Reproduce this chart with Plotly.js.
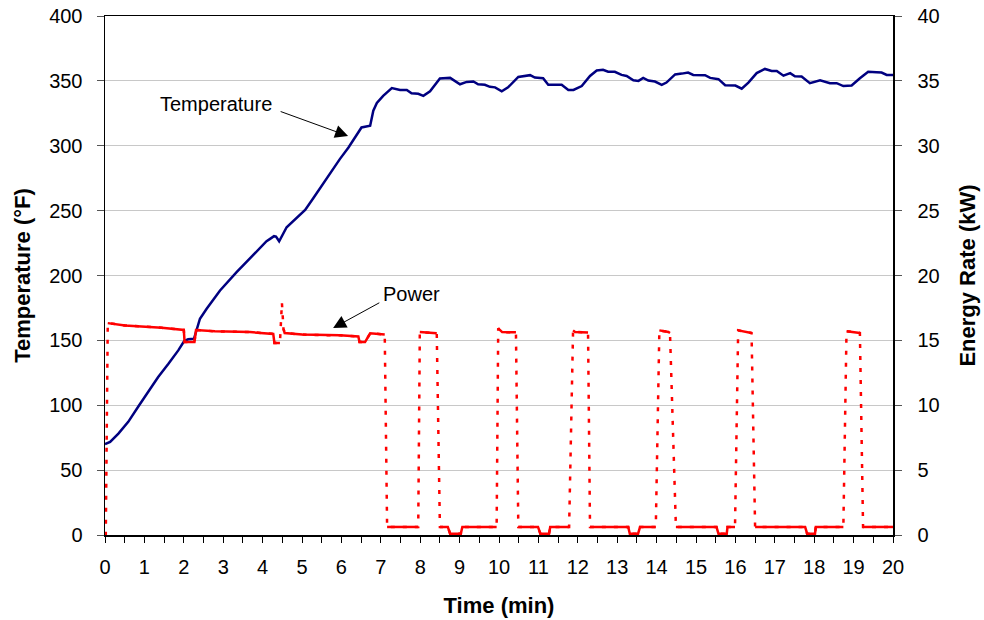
<!DOCTYPE html>
<html><head><meta charset="utf-8">
<script src="https://cdn.plot.ly/plotly-3.0.1.min.js"></script>
<style>html,body{margin:0;padding:0;background:#fff}</style>
</head><body><div id="chart" style="width:984px;height:620px"></div>
<script>
// Temperature series (min, °F)
const timeTemp = [0,0.13,0.34,0.59,0.85,1.1,1.35,1.61,1.86,2.01,2.11,2.26,2.33,2.41,2.58,2.92,3.34,3.76,4.1,4.19,4.29,4.34,4.42,4.61,4.87,5.08,5.29,5.5,5.75,5.96,6.18,6.35,6.51,6.73,6.81,6.9,7.06,7.28,7.49,7.66,7.78,7.95,8.08,8.25,8.5,8.76,9.01,9.18,9.35,9.47,9.64,9.77,9.9,10.07,10.23,10.49,10.79,10.91,11.12,11.25,11.59,11.76,11.89,12.1,12.31,12.48,12.64,12.77,12.94,13.11,13.24,13.41,13.54,13.66,13.79,13.96,14.13,14.25,14.47,14.64,14.8,14.93,15.23,15.36,15.57,15.74,16.0,16.16,16.33,16.54,16.75,16.92,17.05,17.22,17.39,17.51,17.68,17.89,18.15,18.4,18.57,18.74,18.95,19.16,19.37,19.58,19.71,19.84,20.0];
const temperature = [70,71.8,78.2,87.2,99.2,110.3,121.8,132,142.3,149.5,150.8,151.3,159,166.7,174.4,188.5,202.6,215.4,226.4,228.2,230.3,230,226.4,237.2,244.9,250.5,259.7,269.2,280.8,289.7,298.7,306.4,314.1,315.4,327,333,338.5,344.4,343,343,340.5,340,338.5,342,351.8,352.3,347.4,349.2,349.5,347.4,347,345.4,345,342,345,353,354.4,352.6,352,347,347,343,343,346,353.8,358,358.5,357,357,354.6,353.8,350.5,350,352.3,350.3,349.5,347,348.7,355,355.6,356.4,354.6,354.4,352.3,351.3,346.7,346.4,344,348.7,356,359.2,357.7,357.7,354,356,353.6,353.3,348.2,350.5,348.2,348.2,346,346.4,352,357,356.7,356.4,354.6,354.6];

// Power series (min, kW)
const timePower = [0,0.02,0.07,0.51,1.44,2.0,2.02,2.27,2.31,2.79,3.68,4.27,4.3,4.44,4.49,4.53,4.56,5.0,5.79,5.96,6.43,6.46,6.6,6.73,7.1,7.16,7.95,7.99,8.42,8.5,8.7,8.76,9.03,9.07,9.94,9.98,10.08,10.43,10.49,10.99,11.05,11.27,11.3,11.78,11.88,11.93,12.26,12.31,13.28,13.32,13.53,13.58,13.98,14.07,14.3,14.34,14.49,15.52,15.57,15.78,15.8,15.99,16.07,16.41,16.5,17.77,17.82,18.02,18.04,18.74,18.82,19.16,19.24,20.0];
const power = [0,0,16.33,16.15,15.97,15.8,14.87,14.87,15.8,15.7,15.64,15.5,14.8,14.8,17.9,15.9,15.56,15.45,15.38,15.4,15.3,14.87,14.87,15.54,15.46,0.62,0.62,15.64,15.54,0.62,0.62,0.1,0.1,0.62,0.62,15.93,15.64,15.62,0.62,0.62,0.1,0.1,0.62,0.62,15.77,15.65,15.6,0.62,0.62,0.1,0.1,0.62,0.62,15.77,15.65,15.57,0.62,0.62,0.1,0.1,0.62,0.62,15.77,15.57,0.62,0.62,0.1,0.1,0.62,0.62,15.7,15.57,0.62,0.62];

const xTicks = [0,1,2,3,4,5,6,7,8,9,10,11,12,13,14,15,16,17,18,19,20];
const tempTicks = [0,50,100,150,200,250,300,350,400];
const powerTicks = [0,5,10,15,20,25,30,35,40];

// solid pieces: break the power line at large jumps (those are drawn dotted)
const solidX = [], solidY = [];
for (let i = 0; i < timePower.length; i++) {
  if (i > 0 && Math.abs(power[i] - power[i-1]) > 1.5) { solidX.push(null); solidY.push(null); }
  solidX.push(timePower[i]); solidY.push(power[i]);
}

const FONT = 'Liberation Sans, Arial, sans-serif';
const traces = [
  {x: timeTemp, y: temperature, type: 'scatter', mode: 'lines', yaxis: 'y',
   line: {color: '#000080', width: 2.5}, hoverinfo: 'skip'},
  {x: timePower, y: power, type: 'scatter', mode: 'lines', yaxis: 'y2',
   line: {color: '#FF0000', width: 2.5, dash: '4px,8px'}, hoverinfo: 'skip'},
  {x: solidX, y: solidY, type: 'scatter', mode: 'lines', yaxis: 'y2', connectgaps: false,
   line: {color: '#FF0000', width: 2.5}, hoverinfo: 'skip'}
];

const layout = {
  width: 984, height: 620,
  margin: {l: 105, r: 91, t: 16, b: 85},
  paper_bgcolor: '#fff', plot_bgcolor: '#fff',
  showlegend: false,
  font: {family: FONT, size: 20, color: '#000'},
  xaxis: {
    range: [0, 20], tickmode: 'array', tickvals: xTicks, ticktext: xTicks.map(String),
    ticks: 'outside', ticklen: 6, tickcolor: '#000', tickwidth: 1,
    minor: {dtick: 0.5, tick0: 0, ticks: 'outside', ticklen: 6, tickcolor: '#000', showgrid: false},
    showline: true, linecolor: '#000', linewidth: 1.5, mirror: true,
    showgrid: false, zeroline: false, ticklabelstandoff: 7,
    title: {text: 'Time (min)', font: {family: FONT, size: 22, color: '#000', weight: 'bold'}, standoff: 21}
  },
  yaxis: {
    range: [0, 400], tickmode: 'array', tickvals: tempTicks, ticktext: tempTicks.map(String),
    ticks: 'outside', ticklen: 7, tickcolor: '#555', tickwidth: 1,
    showline: true, linecolor: '#000', linewidth: 1.5,
    showgrid: true, gridcolor: '#C8C8C8', gridwidth: 1, zeroline: false, ticklabelstandoff: 10,
    title: {text: 'Temperature (°F)', font: {family: FONT, size: 22, color: '#000', weight: 'bold'}, standoff: 12}
  },
  yaxis2: {
    range: [0, 40], overlaying: 'y', side: 'right', tickmode: 'array', tickvals: powerTicks, ticktext: powerTicks.map(String),
    ticks: 'outside', ticklen: 7, tickcolor: '#555', tickwidth: 1,
    showline: true, linecolor: '#000', linewidth: 1.5,
    showgrid: false, zeroline: false, ticklabelstandoff: 12,
    title: {text: 'Energy Rate (kW)', font: {family: FONT, size: 22, color: '#000', weight: 'bold'}, standoff: 21}
  },
  annotations: [
    {x: 2.82, y: 332.5, xref: 'x', yref: 'y', text: 'Temperature', showarrow: false, font: {family: FONT, size: 20, color: '#000'}},
    {x: 6.17, y: 307.5, ax: 4.42, ay: 326.8, xref: 'x', yref: 'y', axref: 'x', ayref: 'y', text: '',
     showarrow: true, arrowhead: 2, arrowsize: 2.6, arrowwidth: 1, arrowcolor: '#000', standoff: 0, startstandoff: 0},
    {x: 7.77, y: 186, xref: 'x', yref: 'y', text: 'Power', showarrow: false, font: {family: FONT, size: 20, color: '#000'}},
    {x: 5.79, y: 159.5, ax: 7.0, ay: 179.6, xref: 'x', yref: 'y', axref: 'x', ayref: 'y', text: '',
     showarrow: true, arrowhead: 2, arrowsize: 2.6, arrowwidth: 1, arrowcolor: '#000', standoff: 0, startstandoff: 0}
  ]
};

Plotly.newPlot('chart', traces, layout, {staticPlot: true, displayModeBar: false});
</script>
</body></html>
